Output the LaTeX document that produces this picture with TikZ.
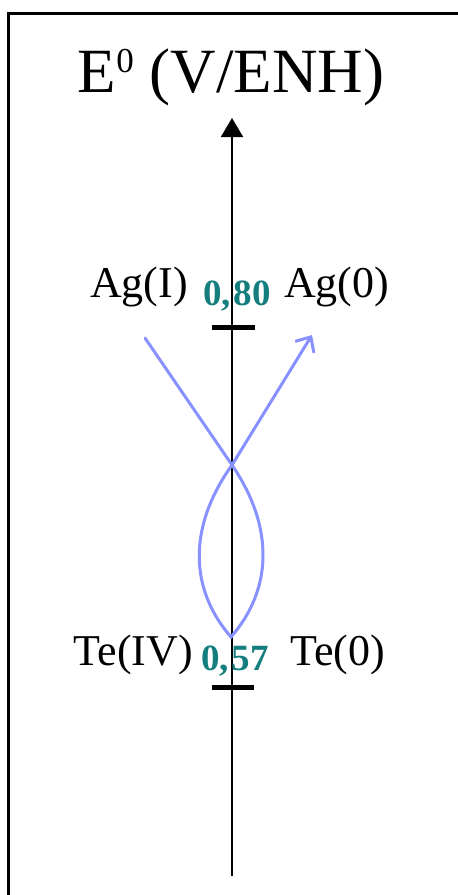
\documentclass[tikz,border=0pt]{standalone}
\usepackage{fontspec}
\setmainfont{Liberation Serif}
\usetikzlibrary{arrows.meta}
\definecolor{curveblue}{RGB}{135,145,255}
\definecolor{valteal}{RGB}{20,125,125}
\tikzset{
  lbl/.style={inner sep=0pt, font=\fontsize{44}{50}\selectfont, text=black},
  val/.style={inner sep=0pt, anchor=base, font=\fontsize{37}{40}\selectfont\bfseries, text=valteal},
  tick/.style={line width=5pt, black},
  frameline/.style={line width=3pt, black},
  redox/.style={curveblue, line width=3pt, line cap=round}
}
\begin{document}
\begin{tikzpicture}[x=1pt,y=-1pt]
\useasboundingbox (0,0) rectangle (458,895);
% frame (partly cut)
\coordinate (fbl) at (8,895);
\coordinate (ftl) at (8,13);
\coordinate (ftr) at (458,13);
\draw[frameline] (fbl) -- (ftl) -- (ftr);
% title
\node[inner sep=0pt, anchor=base, font=\fontsize{63}{70}\selectfont] (title) at (231,92) {E\raisebox{20pt}{\fontsize{35}{38}\selectfont 0} (V/ENH)};
% axis
\coordinate (axbot) at (232,876);
\coordinate (axtop) at (232,118);
\draw[line width=2pt, -{Triangle[length=19pt,width=22pt]}] (axbot) -- (axtop);
% ticks
\coordinate (t1l) at (212,327); \coordinate (t1r) at (255,327);
\coordinate (t2l) at (212,687); \coordinate (t2r) at (254,687);
\draw[tick] (t1l) -- (t1r);
\draw[tick] (t2l) -- (t2r);
% labels
\node[lbl, anchor=base east] (agI) at (188,297) {Ag(I)};
\node[lbl, anchor=base west] (ag0) at (284,297) {Ag(0)};
\node[lbl, anchor=base east] (teIV) at (193,665) {Te(IV)};
\node[lbl, anchor=base west] (te0) at (290,665) {Te(0)};
\node[val] (v80) at (237,305) {0,\kern3pt 80};
\node[val] (v57) at (235,670) {0,\kern3pt 57};
% redox curve
\coordinate (s) at (145,338);
\coordinate (x) at (232,465);
\coordinate (b) at (231,637);
\coordinate (e) at (312,335);
\draw[redox, -{Straight Barb[length=12pt,width=22pt,line width=3pt]}]
  (s) -- (x) .. controls (275,528) and (272,590) .. (b)
  .. controls (190,590) and (187,528) .. (x) -- (e);
\end{tikzpicture}
\end{document}
